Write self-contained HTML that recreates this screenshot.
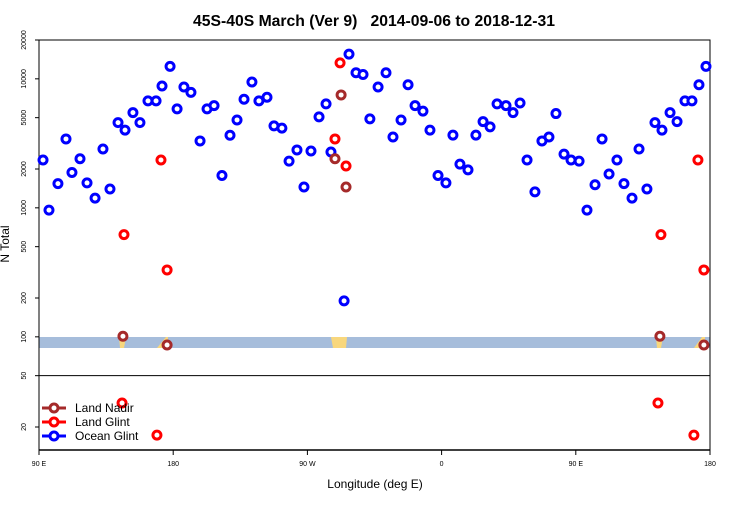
<!DOCTYPE html>
<html><head><meta charset="utf-8">
<style>
body{margin:0;background:#fff;}
svg text{font-family:"Liberation Sans",Arial,sans-serif;}
</style></head>
<body>
<svg id="chart" width="750" height="500" viewBox="0 0 750 500" xmlns="http://www.w3.org/2000/svg">
<rect width="750" height="500" fill="#fff"/>
<text x="374" y="26" text-anchor="middle" font-size="16" font-weight="bold" textLength="362" lengthAdjust="spacingAndGlyphs">45S-40S March (Ver 9)&#160;&#160;&#160;2014-09-06 to 2018-12-31</text>
<text transform="translate(9,244) rotate(-90)" text-anchor="middle" font-size="12">N Total</text>
<text x="375" y="488" text-anchor="middle" font-size="12">Longitude (deg E)</text>
<g id="band">
<rect x="39" y="337" width="671" height="11" fill="#a6bddb"/>
<path d="M119,337 L126,337 L124,348 L120,348Z M157,348 L166,337 L168,337 L167,348Z M331,337 L347,337 L346,348 L333,348Z M656,337 L663,337 L661,348 L657,348Z M694,348 L702,337 L705,337 L704,348Z" fill="#f8d77d"/>
</g>
<g id="axes"></g>
<g id="marks"></g>
<g font-size="12">
<g><line x1="42" y1="408" x2="66" y2="408" stroke="#a52a2a" stroke-width="3"/><circle cx="54" cy="408" r="4" fill="#fff" stroke="#a52a2a" stroke-width="3"/><text x="75" y="412">Land Nadir</text></g>
<g><line x1="42" y1="422" x2="66" y2="422" stroke="#ff0000" stroke-width="3"/><circle cx="54" cy="422" r="4" fill="#fff" stroke="#ff0000" stroke-width="3"/><text x="75" y="426">Land Glint</text></g>
<g><line x1="42" y1="436" x2="66" y2="436" stroke="#0000ff" stroke-width="3"/><circle cx="54" cy="436" r="4" fill="#fff" stroke="#0000ff" stroke-width="3"/><text x="75" y="440">Ocean Glint</text></g>
</g>
</svg>
<script>
const oceanLon=[92.7,96.7,102.7,108.1,112.1,117.5,122.2,127.6,132.9,137.6,143.0,147.7,153.0,157.7,163.1,168.5,172.5,177.9,182.6,187.2,191.9,198.0,202.7,207.4,212.7,218.1,222.8,227.5,232.8,237.5,242.9,247.6,252.9,257.7,263.0,267.7,272.4,277.8,282.5,285.8,294.6,297.9,302.6,307.3,311.9,317.4,322.7,327.4,332.8,337.5,342.2,347.5,352.2,357.6,362.9,367.6,372.3,377.7,383.0,387.8,392.5,397.2,403.2,407.9,412.6,417.3,422.6,427.3,432.0,436.7,442.1,446.8,452.2,457.5,462.9,467.6,472.3,477.6,482.3,487.7,492.4,497.7,503.1,507.8,513.2,517.9,523.2,527.9,532.6,537.3];
const oceanVal=[2350,960,1540,3420,1880,2400,1560,1190,2860,1400,4580,4000,5470,4580,6750,6750,8800,12500,5850,8650,7850,3300,5850,6200,1780,3650,4800,6950,9450,6750,7200,4320,4150,2300,2810,1450,2760,5070,6390,2710,190,15550,11150,10800,4890,8650,11150,3540,4800,9000,6200,5620,4000,1780,1560,3660,2180,1970,3660,4660,4240,6390,6200,5470,6500,2350,1330,3300,3540,5380,2610,2350,2300,960,1510,3420,1830,2350,1540,1190,2860,1400,4580,4000,5470,4660,6750,6750,9000,12500];
const glintLon=[147.0,171.8,175.9,145.7,169.1,288.5,291.9,295.9,507.1,531.9,535.9,505.1,529.2];
const glintVal=[620,2350,330,30.7,17.3,3420,13300,2110,620,2350,330,30.7,17.3];
const nadirLon=[146.3,175.9,288.5,292.6,295.9,506.4,535.9];
const nadirVal=[101,86.5,2400,7500,1450,101,86.5];
const yTicks=[20,50,100,200,500,1000,2000,5000,10000,20000];
const xTicks=[90,180,270,360,450,540];
const xTickLabels=["90 E","180","90 W","0","90 E","180"];

const L=39,R=710,T=40,B=450;
const xs=lon=>L+(lon-90)*(R-L)/450;
const ys=v=>T+(Math.log10(20000)-Math.log10(v))*129;
const NS="http://www.w3.org/2000/svg";
function mk(tag,attrs,parent){const e=document.createElementNS(NS,tag);for(const k in attrs)e.setAttribute(k,attrs[k]);parent.appendChild(e);return e;}
const ax=document.getElementById('axes');
const frame=mk('path',{d:`M${L},${B} L${L},${T} L${R},${T} L${R},${B}`,fill:'none',stroke:'#000','stroke-width':1},ax);


const xaxis=mk('line',{x1:L,y1:B,x2:R,y2:B,stroke:'#000','stroke-width':1.5},ax);


const sep=mk('line',{x1:L,y1:ys(50),x2:R,y2:ys(50),stroke:'#000','stroke-width':1},ax);


yTicks.forEach(v=>{
  const y=ys(v);
  const t=mk('line',{x1:L-4,y1:y,x2:L,y2:y,stroke:'#000'},ax);
  
  
  const tx=mk('text',{transform:`translate(${L-13},${y}) rotate(-90)`,'text-anchor':'middle','font-size':7},ax);
  tx.textContent=v;
  
  
});
xTicks.forEach((v,i)=>{
  const x=xs(v);
  const t=mk('line',{x1:x,y1:B,x2:x,y2:B+5,stroke:'#000'},ax);
  
  
  const tx=mk('text',{x:x,y:B+16,'text-anchor':'middle','font-size':7},ax);
  tx.textContent=xTickLabels[i];
  
  
});
const marks=document.getElementById('marks');
function series(lons,vals,color,name){
  lons.forEach((lon,i)=>{
    const c=mk('circle',{cx:xs(lon),cy:ys(vals[i]),r:4,fill:'#fff',stroke:color,'stroke-width':3},marks);
    
    
  });
}
series(oceanLon,oceanVal,'#0000ff','ocean-glint-point');
series(glintLon,glintVal,'#ff0000','land-glint-point');
series(nadirLon,nadirVal,'#a52a2a','land-nadir-point');
</script>
</body></html>
